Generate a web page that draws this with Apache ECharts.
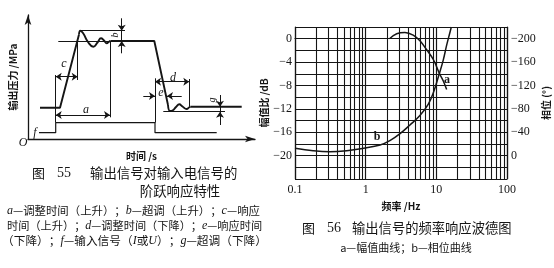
<!DOCTYPE html>
<html><head><meta charset="utf-8">
<script src="https://cdn.jsdelivr.net/npm/echarts@6/dist/echarts.min.js"></script>
<style>html,body{margin:0;padding:0;background:#fff}#c{width:554px;height:268px}</style>
</head><body><div id="c"></div>
<script>
// ---------- Figure 55 (step response schematic, arbitrary units) ----------
const inputSignal = [[11,6.3],[27.7,6.3],[27.7,16.3],[127,16.3],[127,6.3],[188.7,6.3]];
const outRise = [[12,31.3],[32,31.3],[51,104.5]];
const outWave1 = [[51,104.5],[52.3,108.3],[55,106],[60,97],[65.3,92.3],[69.5,96.5],[73,100.7],[76,98.5],[78.7,95.7],[81,97.3],[82.5,98]];
const outHigh = [[82.5,98],[126.3,98],[140,34]];
const outWave2 = [[140,34],[142,28],[144.5,28.5],[148,32],[151.3,34.7],[154.5,32.5],[158.7,30],[161,31.5],[162.5,32.3]];
const outLow = [[162.5,32.3],[213.7,32.3]];
const refSegments = [
  [[52,108.3],[97,108.3]],
  [[30.3,98],[82.5,98]],
  [[27.7,16.3],[27.7,64]],
  [[127,16.3],[127,60.7]],
  [[49.7,97.3],[49.7,59]],
  [[82,98],[82,21.7]],
  [[161.3,60],[161.3,32.3]],
  [[135.3,27.3],[197,27.3]],
  [[93.7,108.3],[93.7,98]],
  [[192,32.3],[192,27.3]]
];
const doubleArrows = [
  [[27.7,62.3],[49.7,62.3]],
  [[27.7,24],[82,24]],
  [[127,57.3],[161.3,57.3]]
];
const singleArrows = [
  [[93.7,120.7],[93.7,108.3]],
  [[93.7,85.7],[93.7,98]],
  [[115.3,43],[127,43]],
  [[153.7,43],[139,43]],
  [[192,44],[192,32.3]],
  [[192,14],[192,27.3]]
];

// ---------- Figure 56 (Bode plot) ----------
const freqTicks = [0.1, 1, 10, 100];
const minorFreqs = [0.2,0.3,0.4,0.5,0.6,0.7,0.8,0.9,2,3,4,5,6,7,8,9,20,30,40,50,60,70,80,90];
const dbTickLabels = [0, -4, -8, -12, -16, -20];
const phaseTickLabels = [-200, -160, -120, -80, -40, 0];
const ampFreq = [2.17, 2.75, 3.6, 4.7, 5.9, 7.3, 9.1, 11.1, 12.5, 14];
const ampDb   = [0, 0.85, 1.05, 0.6, -0.4, -1.9, -3.6, -6.0, -7.2, -8.7];
const phaseFreq = [0.1, 0.18, 0.31, 0.54, 0.93, 1.6, 2.2, 3.1, 4.2, 5.9, 7.7, 9.1, 11, 12.5, 14, 15.6, 16.3];
const phaseDeg  = [-12.6, -8.5, -6.8, -8.5, -12.6, -18.2, -25.6, -38, -52, -69, -88, -108, -140, -163, -189, -211, -220];

const INK = '#151515';
const SERIF = '"Liberation Serif", "DejaVu Serif", serif';
const CJK = '"Noto Sans CJK SC", sans-serif';
const minus = v => v < 0 ? '\u2212' + Math.abs(v) : String(v);

const chart = echarts.init(document.getElementById('c'), null, {renderer:'canvas'});
const hiddenAxisCommon = {axisTick:{show:false}, axisLabel:{show:false}, splitLine:{show:false}};
const series = [];
const lineS = (data, smooth, width) => ({type:'line', xAxisIndex:0, yAxisIndex:0, data, smooth: smooth||false, symbol:'none', silent:true,
  lineStyle:{color:INK, width: width||1.9}});
series.push(lineS(inputSignal, false, 1.2));
series.push(lineS(outRise, false, 1.9));
series.push(lineS(outWave1, 0.5, 1.9));
series.push(lineS(outHigh, false, 1.9));
series.push(lineS(outWave2, 0.5, 1.9));
series.push(lineS(outLow, false, 1.9));
series.push({type:'lines', coordinateSystem:'cartesian2d', xAxisIndex:0, yAxisIndex:0, silent:true, symbol:['none','none'],
  lineStyle:{color:INK, width:1, opacity:1}, data: refSegments.map(c=>({coords:c}))});
series.push({type:'lines', coordinateSystem:'cartesian2d', xAxisIndex:0, yAxisIndex:0, silent:true, symbol:['arrow','arrow'], symbolSize:6,
  lineStyle:{color:INK, width:1, opacity:1}, data: doubleArrows.map(c=>({coords:c}))});
series.push({type:'lines', coordinateSystem:'cartesian2d', xAxisIndex:0, yAxisIndex:0, silent:true, symbol:['none','arrow'], symbolSize:6,
  lineStyle:{color:INK, width:1, opacity:1}, data: singleArrows.map(c=>({coords:c}))});
// Bode curves
series.push({type:'line', xAxisIndex:1, yAxisIndex:1, smooth:0.4, symbol:'none', silent:true,
  lineStyle:{color:INK, width:1.5}, data: ampFreq.map((f,i)=>[f, ampDb[i]]),
  markLine:{silent:true, symbol:['none','none'], label:{show:false}, animation:false,
    lineStyle:{color:INK, width:1.1, type:'solid'}, emphasis:{disabled:true},
    data: minorFreqs.map(f=>({xAxis:f}))}});
series.push({type:'line', xAxisIndex:1, yAxisIndex:2, smooth:0.4, symbol:'none', silent:true,
  lineStyle:{color:INK, width:1.5}, data: phaseFreq.map((f,i)=>[f, phaseDeg[i]])});

const option = {
  animation:false,
  backgroundColor:'#fff',
  grid:[
    {left:28, top:15, width:227, height:124},
    {left:295, top:27, width:212, height:152}
  ],
  xAxis:[
    Object.assign({gridIndex:0, type:'value', min:0, max:227,
      axisLine:{show:true, symbol:['none','arrow'], symbolSize:[5,10], lineStyle:{color:INK, width:1.3}},
      name:'时间 /s', nameLocation:'middle', nameGap:12,
      nameTextStyle:{fontFamily:CJK, fontSize:10, fontWeight:'bold', color:INK}}, hiddenAxisCommon),
    {gridIndex:1, type:'log', logBase:10, min:0.1, max:100,
      axisLine:{show:true, lineStyle:{color:INK, width:1.2}}, axisTick:{show:false},
      axisLabel:{margin:5, fontFamily:SERIF, fontSize:12, color:INK, formatter:v=> freqTicks.some(t=>Math.abs(t-v)<1e-9) ? String(+(+v).toPrecision(3)) : ''},
      splitLine:{show:true, lineStyle:{color:INK, width:1.2}},
      name:'频率 /Hz', nameLocation:'middle', nameGap:20,
      nameTextStyle:{fontFamily:CJK, fontSize:10, fontWeight:'bold', color:INK}}
  ],
  yAxis:[
    Object.assign({gridIndex:0, type:'value', min:0, max:124,
      axisLine:{show:true, symbol:['none','arrow'], symbolSize:[5,10], lineStyle:{color:INK, width:1.3}},
      name:'输出压力 /MPa', nameLocation:'middle', nameGap:10, nameRotate:90,
      nameTextStyle:{fontFamily:CJK, fontSize:10, fontWeight:'bold', color:INK}}, hiddenAxisCommon),
    {gridIndex:1, type:'value', min:-24, max:2, interval:2,
      axisLine:{show:true, lineStyle:{color:INK, width:1.2}}, axisTick:{show:false},
      axisLabel:{margin:3, fontFamily:SERIF, fontSize:12, color:INK,
        formatter:v=> dbTickLabels.indexOf(v)>=0 ? minus(v) : ''},
      splitLine:{show:true, lineStyle:{color:INK, width:1.2}},
      name:'幅值比 /dB', nameLocation:'middle', nameGap:26, nameRotate:90,
      nameTextStyle:{fontFamily:CJK, fontSize:10, fontWeight:'bold', color:INK}},
    {gridIndex:1, type:'value', position:'right', inverse:true, min:-220, max:40, interval:20,
      axisLine:{show:true, lineStyle:{color:INK, width:1.2}}, axisTick:{show:false},
      axisLabel:{margin:4, fontFamily:SERIF, fontSize:12, color:INK,
        formatter:v=> phaseTickLabels.indexOf(v)>=0 ? minus(v) : ''},
      splitLine:{show:false},
      name:'相位 (°)', nameLocation:'middle', nameGap:34, nameRotate:90,
      nameTextStyle:{fontFamily:CJK, fontSize:10, fontWeight:'bold', color:INK}}
  ],
  series,
  graphic:[
    // schematic letters
    {type:'text', x:23, y:143, style:{text:'O', font:'italic 12px '+SERIF, fill:INK, textAlign:'center', textVerticalAlign:'middle'}},
    {type:'text', x:35, y:133, style:{text:'f', font:'italic 12px '+SERIF, fill:INK, textAlign:'center', textVerticalAlign:'middle'}},
    {type:'text', x:86, y:110, style:{text:'a', font:'italic 12px '+SERIF, fill:INK, textAlign:'center', textVerticalAlign:'middle'}},
    {type:'text', x:64, y:64, style:{text:'c', font:'italic 12px '+SERIF, fill:INK, textAlign:'center', textVerticalAlign:'middle'}},
    {type:'text', x:115, y:35, rotation:Math.PI/2, style:{text:'b', font:'italic 10px '+SERIF, fill:INK, textAlign:'center', textVerticalAlign:'middle'}},
    {type:'text', x:173, y:78, style:{text:'d', font:'italic 12px '+SERIF, fill:INK, textAlign:'center', textVerticalAlign:'middle'}},
    {type:'text', x:161, y:93, style:{text:'e', font:'italic 12px '+SERIF, fill:INK, textAlign:'center', textVerticalAlign:'middle'}},
    {type:'text', x:212, y:100, rotation:Math.PI/2, style:{text:'g', font:'italic 10px '+SERIF, fill:INK, textAlign:'center', textVerticalAlign:'middle'}},
    // Bode curve letters
    {type:'text', x:447, y:80, style:{text:'a', font:'bold 12px '+SERIF, fill:INK, textAlign:'center', textVerticalAlign:'middle'}},
    {type:'text', x:377, y:137, style:{text:'b', font:'bold 12px '+SERIF, fill:INK, textAlign:'center', textVerticalAlign:'middle'}},
    // captions fig 55
    {type:'text', x:32, y:173, style:{text:'图', font:'13px '+CJK, fill:INK, textAlign:'left', textVerticalAlign:'middle'}},
    {type:'text', x:57, y:173, style:{text:'55', font:'14px '+SERIF, fill:INK, textAlign:'left', textVerticalAlign:'middle'}},
    {type:'text', x:90, y:173, style:{text:'输出信号对输入电信号的', font:'13.4px '+CJK, fill:INK, textAlign:'left', textVerticalAlign:'middle'}},
    {type:'text', x:180, y:191, style:{text:'阶跃响应特性', font:'13.4px '+CJK, fill:INK, textAlign:'center', textVerticalAlign:'middle'}},
    {type:'text', x:7, y:211, style:{text:'{i|a}—调整时间（上升）；{i|b}—超调（上升）；{i|c}—响应', font:'11.4px '+CJK, fill:INK, textAlign:'left', textVerticalAlign:'middle',
      rich:{i:{fontFamily:SERIF, fontStyle:'italic', fontSize:12, fill:INK}}}},
    {type:'text', x:7, y:226, style:{text:'时间（上升）；{i|d}—调整时间（下降）；{i|e}—响应时间', font:'11.2px '+CJK, fill:INK, textAlign:'left', textVerticalAlign:'middle',
      rich:{i:{fontFamily:SERIF, fontStyle:'italic', fontSize:12, fill:INK}}}},
    {type:'text', x:2, y:241, style:{text:'（下降）；{i|f}—输入信号（{i|I}或{i|U}）；{i|g}—超调（下降）', font:'11.7px '+CJK, fill:INK, textAlign:'left', textVerticalAlign:'middle',
      rich:{i:{fontFamily:SERIF, fontStyle:'italic', fontSize:12, fill:INK}}}},
    // captions fig 56
    {type:'text', x:302, y:228, style:{text:'图', font:'13px '+CJK, fill:INK, textAlign:'left', textVerticalAlign:'middle'}},
    {type:'text', x:327, y:228, style:{text:'56', font:'14px '+SERIF, fill:INK, textAlign:'left', textVerticalAlign:'middle'}},
    {type:'text', x:352, y:228, style:{text:'输出信号的频率响应波德图', font:'13.3px '+CJK, fill:INK, textAlign:'left', textVerticalAlign:'middle'}},
    {type:'text', x:406, y:248, style:{text:'a—幅值曲线；b—相位曲线', font:'11px '+CJK, fill:INK, textAlign:'center', textVerticalAlign:'middle'}}
  ]
};
chart.setOption(option);
</script></body></html>
